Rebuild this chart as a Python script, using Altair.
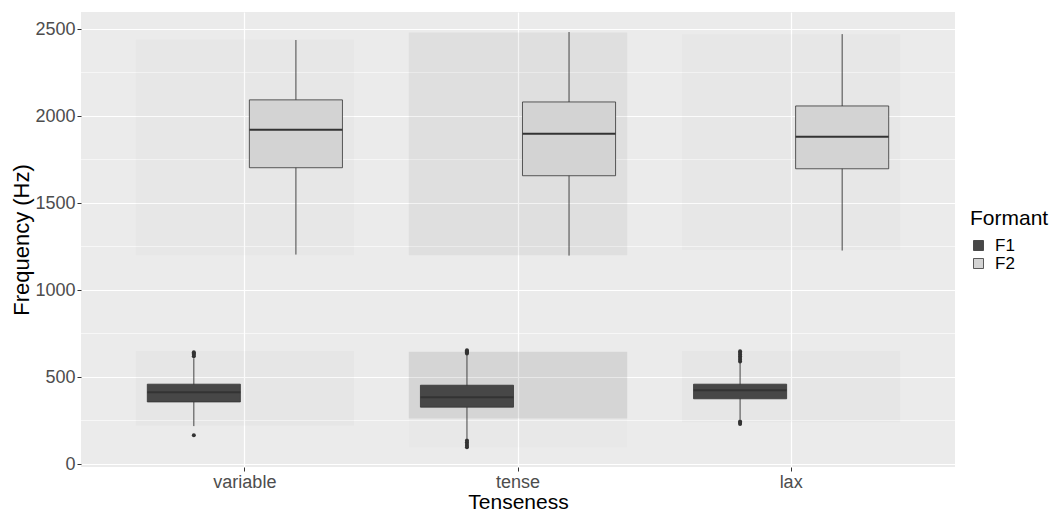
import altair as alt
import pandas as pd

# ---- data ----
categories = ["variable", "tense", "lax"]
formants = ["F1", "F2"]

box_cat = ["variable", "variable", "tense", "tense", "lax", "lax"]
box_formant = ["F1", "F2", "F1", "F2", "F1", "F2"]
q1 = [357, 1703, 327, 1657, 375, 1697]
median = [412, 1921, 384, 1898, 424, 1881]
q3 = [459, 2093, 453, 2081, 459, 2058]
whisk_lo = [218, 1204, 145, 1198, 255, 1227]
whisk_hi = [608, 2437, 630, 2483, 582, 2471]

out_cat = ["variable"] * 5 + ["tense"] * 9 + ["lax"] * 10
out_formant = ["F1"] * 24
out_value = [620, 628, 635, 642, 166,
             636, 642, 648, 654, 135, 125, 115, 105, 97,
             590, 600, 610, 620, 630, 640, 648, 245, 238, 230]

# jittered point clouds, summarised as bands (extent and relative density)
cloud_cat = ["variable", "variable", "tense", "tense", "tense", "lax", "lax"]
cloud_lo = [1200, 220, 1200, 262, 95, 1230, 240]
cloud_hi = [2440, 650, 2480, 645, 262, 2470, 650]
cloud_density = [0.7, 1.0, 2.4, 4.5, 0.5, 0.7, 1.0]

y_major = [0, 500, 1000, 1500, 2000, 2500]
y_minor = [250, 750, 1250, 1750, 2250]

box_df = pd.DataFrame({"Tenseness": box_cat, "Formant": box_formant, "q1": q1,
                       "median": median, "q3": q3, "lo": whisk_lo, "hi": whisk_hi})
out_df = pd.DataFrame({"Tenseness": out_cat, "Formant": out_formant, "value": out_value})
cloud_df = pd.DataFrame({"Tenseness": cloud_cat, "lo": cloud_lo, "hi": cloud_hi,
                         "density": cloud_density})
minor_df = pd.DataFrame({"v": y_minor})

FONT = "Liberation Sans"
yscale = alt.Scale(domain=[-17, 2598], nice=False, zero=False)
yaxis = alt.Axis(values=y_major, title="Frequency (Hz)", format="d")
xenc = alt.X("Tenseness:N", sort=categories, title="Tenseness",
             scale=alt.Scale(paddingInner=0, paddingOuter=0.1),
             axis=alt.Axis(labelAngle=0, bandPosition=0.5))
xoff = alt.XOffset("Formant:N", sort=formants,
                   scale=alt.Scale(paddingInner=0.088, paddingOuter=0.382))

minor = alt.Chart(minor_df).mark_rule(color="white", strokeWidth=0.6).encode(
    y=alt.Y("v:Q", scale=yscale, axis=yaxis))

clouds = alt.Chart(cloud_df).mark_bar(color="#000000", width=alt.RelativeBandSize(0.8)).encode(
    x=xenc,
    y=alt.Y("lo:Q", scale=yscale, axis=yaxis),
    y2="hi:Q",
    opacity=alt.Opacity("density:Q", scale=alt.Scale(domain=[0, 5], range=[0, 0.1]),
                        legend=None))

whiskers = alt.Chart(box_df).mark_rule(color="#333333", strokeWidth=0.9).encode(
    x=xenc, xOffset=xoff,
    y=alt.Y("lo:Q", scale=yscale, axis=yaxis), y2="hi:Q")

boxes = alt.Chart(box_df).mark_bar(stroke="#333333", strokeWidth=0.8, opacity=1).encode(
    x=xenc, xOffset=xoff,
    y=alt.Y("q1:Q", scale=yscale, axis=yaxis), y2="q3:Q",
    color=alt.Color("Formant:N", sort=formants,
                    scale=alt.Scale(domain=formants, range=["#474747", "#d3d3d3"]),
                    legend=alt.Legend(title="Formant", orient="none", legendX=889,
                                      legendY=196, symbolType="square", symbolSize=100,
                                      symbolStrokeColor="#333333", symbolStrokeWidth=0.8,
                                      labelFontSize=17, titleFontSize=21,
                                      titleFontWeight="normal", titleColor="black",
                                      labelColor="black", rowPadding=0, titlePadding=8,
                                      labelOffset=8, labelFont=FONT, titleFont=FONT)))

medians = alt.Chart(box_df).mark_tick(color="#333333", thickness=2, size=93, opacity=1).encode(
    x=xenc, xOffset=xoff,
    y=alt.Y("median:Q", scale=yscale, axis=yaxis))

outliers = alt.Chart(out_df).mark_circle(color="#333333", size=16, opacity=1).encode(
    x=xenc, xOffset=xoff,
    y=alt.Y("value:Q", scale=yscale, axis=yaxis))

chart = alt.layer(minor, clouds, whiskers, boxes, medians, outliers).properties(
    width=874, height=455,
    autosize=alt.AutoSizeParams(type="none"),
    padding={"left": 81, "top": 12, "right": 100, "bottom": 45},
).configure_view(fill="#ebebeb", strokeWidth=0).configure_axis(
    grid=True, gridColor="white", gridWidth=1.2, domain=False,
    tickColor="#333333", tickSize=4, labelColor="#4d4d4d", labelFontSize=18,
    labelFont=FONT, titleFont=FONT, titleFontSize=22, titleFontWeight="normal",
    titleColor="black", labelPadding=2,
).configure_axisY(titlePadding=1).configure_axisX(titlePadding=0, titleFontSize=21)

chart.save("out.html", embed_options={"renderer": "svg", "actions": False})
